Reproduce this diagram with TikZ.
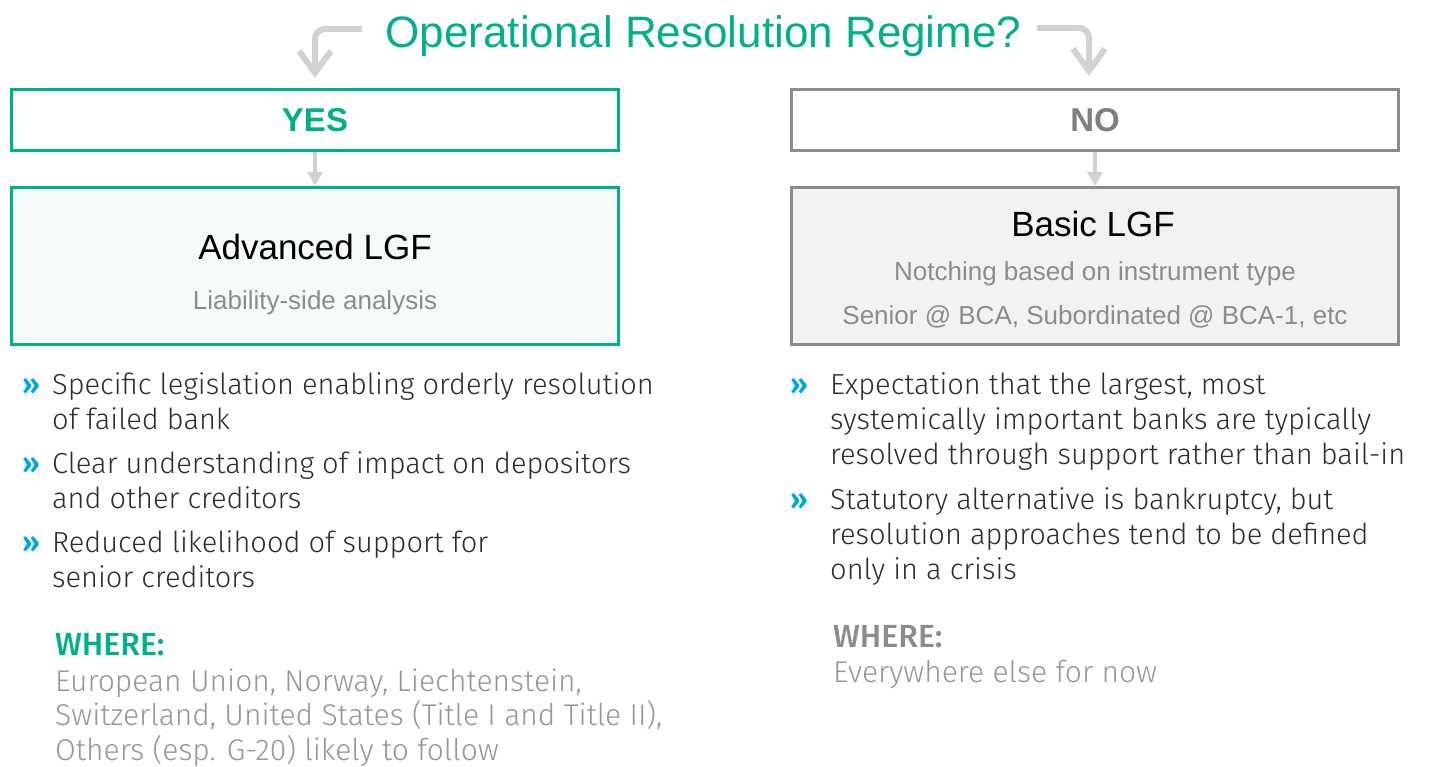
\documentclass[tikz,border=0pt]{standalone}
\usepackage{fontspec}
\setmainfont{Liberation Sans}
\IfFontExistsTF{Fira Sans Light}{\newfontfamily\lightfont{Fira Sans Light}}{\newfontfamily\lightfont{Fira Sans}}
\IfFontExistsTF{Fira Sans Medium}{\newfontfamily\medfont{Fira Sans Medium}}{\newfontfamily\medfont{Fira Sans}}
\usetikzlibrary{arrows.meta}
\definecolor{ygreen}{RGB}{0,176,136}
\definecolor{advfill}{RGB}{245,251,248}
\definecolor{nogray}{RGB}{140,140,140}
\definecolor{notext}{RGB}{127,127,127}
\definecolor{basicfill}{RGB}{242,242,242}
\definecolor{arrowgray}{RGB}{210,210,210}
\definecolor{subgray}{RGB}{140,140,140}
\definecolor{bulblue}{RGB}{0,166,226}
\definecolor{bodytext}{RGB}{45,45,45}
\definecolor{wheregray}{RGB}{150,150,150}
\newcommand{\bodysize}{\fontsize{29}{35}\selectfont}
\newcommand{\wheresize}{\fontsize{30}{32}\selectfont}
\begin{document}
\begin{tikzpicture}[x=1pt,y=-1pt,
  topbox/.style={line width=3pt, minimum width=607pt, minimum height=61pt, inner sep=0pt,
    font=\fontsize{33}{36}\selectfont\bfseries},
  lgfbox/.style={line width=3pt, minimum width=607pt, minimum height=157pt, inner sep=0pt},
  lgftitle/.style={anchor=base, inner sep=0pt, text=black, font=\fontsize{35}{40}\selectfont},
  lgfsub/.style={anchor=base, inner sep=0pt, text=subgray, font=\fontsize{26}{30}\selectfont},
  elbow/.style={draw=arrowgray, line width=6pt, rounded corners=10pt,
    -{Straight Barb[length=22pt,width=32pt]}},
  downarrow/.style={draw=arrowgray, line width=4pt, -{Triangle[width=15pt,length=14pt]}},
  bulletmark/.style={anchor=base west, inner sep=0pt, text=bulblue, font=\lightfont\bodysize},
  bullettext/.style={anchor=base west, inner sep=0pt, text=bodytext, font=\lightfont\bodysize},
  wherehead/.style={anchor=base west, inner sep=0pt, font=\medfont\fontsize{32}{33}\selectfont},
  wheretext/.style={anchor=base west, inner sep=0pt, text=wheregray, font=\lightfont\wheresize}
]
\useasboundingbox (0,0) rectangle (1432,767);
\fill[white] (0,0) rectangle (1432,767);

% title
\node[anchor=base, inner sep=0pt, text=ygreen, font=\fontsize{44}{48}\selectfont] (title) at (703.5,48) {Operational Resolution Regime?};

% top boxes
\node[topbox, draw=ygreen, fill=white, text=ygreen] (yes) at (315,120) {YES};
\node[topbox, draw=nogray, fill=white, text=notext] (no) at (1095,120) {NO};

% elbow arrows
\coordinate (la) at (362,29);
\coordinate (ra) at (1037,28);
\draw[elbow] (la) -| ([yshift=10pt]yes.north);
\draw[elbow] (ra) -| ([xshift=-6pt,yshift=12pt]no.north);

% LGF boxes
\node[lgfbox, draw=ygreen, fill=advfill] (adv) at (315,266) {};
\node[lgfbox, draw=nogray, fill=basicfill] (basic) at (1095,266) {};
\draw[downarrow] (yes) -- (adv);
\draw[downarrow] (no) -- (basic);

\node[lgftitle] (advt) at (315,260) {Advanced LGF};
\node[lgfsub] (advs) at (315,309) {Liability-side analysis};
\node[lgftitle] (bast) at (1093,237) {Basic LGF};
\node[lgfsub] (bass1) at (1095,280) {Notching based on instrument type};
\node[lgfsub] (bass2) at (1095,324) {Senior @ BCA, Subordinated @ BCA-1, etc};

% left bullets
\node[bulletmark] (lm1) at (22,394) {\textbf{»}};
\node[bullettext] (lb1) at (52,394) {\begin{tabular}[t]{@{}l@{}}Specific legislation enabling orderly resolution\\of failed bank\end{tabular}};
\node[bulletmark] (lm2) at (22,473) {\textbf{»}};
\node[bullettext] (lb2) at (52,473) {\begin{tabular}[t]{@{}l@{}}Clear understanding of impact on depositors\\and other creditors\end{tabular}};
\node[bulletmark] (lm3) at (22,552) {\textbf{»}};
\node[bullettext] (lb3) at (52,552) {\begin{tabular}[t]{@{}l@{}}Reduced likelihood of support for\\senior creditors\end{tabular}};

% right bullets
\node[bulletmark] (rm1) at (790,394) {\textbf{»}};
\node[bullettext] (rb1) at (830,394) {\begin{tabular}[t]{@{}l@{}}Expectation that the largest, most\\systemically important banks are typically\\resolved through support rather than bail-in\end{tabular}};
\node[bulletmark] (rm2) at (790,509) {\textbf{»}};
\node[bullettext] (rb2) at (830,509) {\begin{tabular}[t]{@{}l@{}}Statutory alternative is bankruptcy, but\\resolution approaches tend to be defined\\only in a crisis\end{tabular}};

% where blocks
\node[wherehead, text=ygreen] (lwh) at (55,655) {WHERE:};
\node[wheretext] (lwt) at (55,691) {\begin{tabular}[t]{@{}l@{}}European Union, Norway, Liechtenstein,\\Switzerland, United States (Title I and Title II),\\Others (esp. G-20) likely to follow\end{tabular}};
\node[wherehead, text=nogray] (rwh) at (833,647) {WHERE:};
\node[wheretext] (rwt) at (833,682) {Everywhere else for now};
\end{tikzpicture}
\end{document}
